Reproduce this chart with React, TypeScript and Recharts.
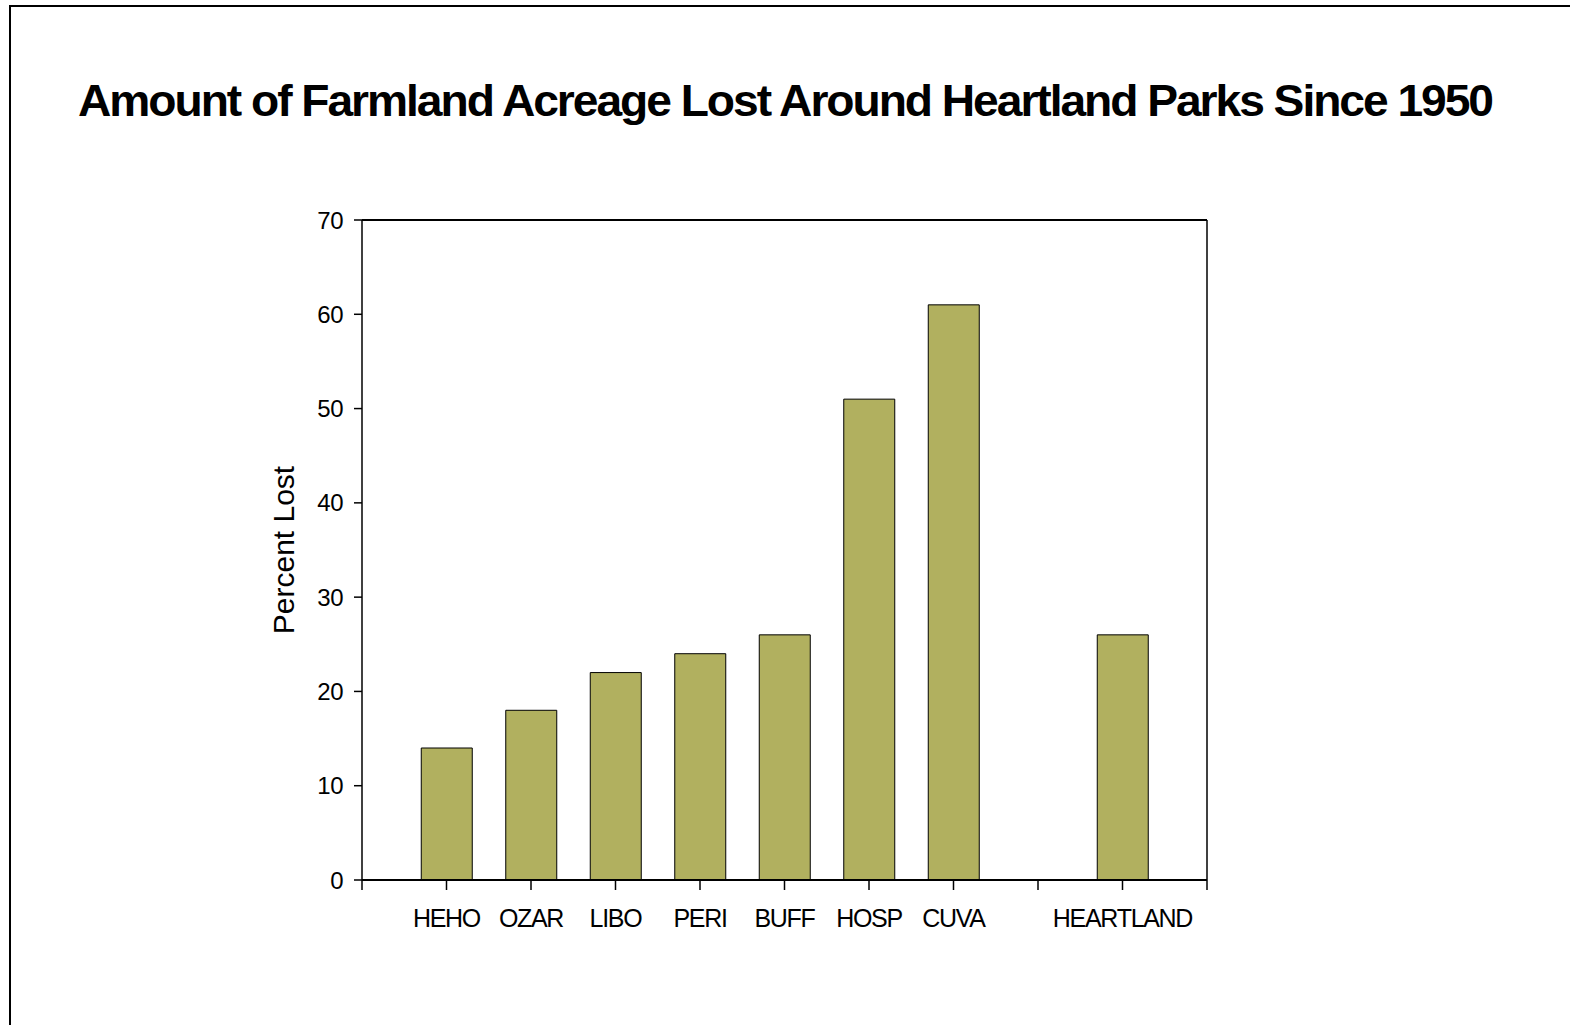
import {
  Bar,
  BarChart,
  ReferenceLine,
  XAxis,
  YAxis,
} from "recharts";

const parks = ["HEHO", "OZAR", "LIBO", "PERI", "BUFF", "HOSP", "CUVA", "HEARTLAND"];
const slots = [1, 2, 3, 4, 5, 6, 7, 9];
const percentLost = [14, 18, 22, 24, 26, 51, 61, 26];
const yTicks = [0, 10, 20, 30, 40, 50, 60, 70];
const xTicks = [0, 1, 2, 3, 4, 5, 6, 7, 8, 9, 10];

const data = parks.map((park, i) => ({ park, x: slots[i], value: percentLost[i] }));

function slotLabel(v: number) {
  const i = slots.indexOf(v);
  return i >= 0 ? parks[i] : "";
}

const font = "'Liberation Sans', Arial, sans-serif";

export default function App() {
  return (
    <div
      style={{
        position: "absolute",
        left: 0,
        top: 0,
        width: 1570,
        height: 1025,
        background: "#fff",
        fontFamily: font,
        overflow: "hidden",
      }}
    >
      <div
        style={{
          position: "absolute",
          left: 9,
          top: 5,
          width: 1600,
          height: 1100,
          borderLeft: "2px solid #000",
          borderTop: "2px solid #000",
        }}
      />
      <svg
        width={1570}
        height={160}
        style={{ position: "absolute", left: 0, top: 0 }}
      >
        <text
          x={785}
          y={116}
          textAnchor="middle"
          fontFamily={font}
          fontWeight="bold"
          fontSize={45}
          letterSpacing={-2}
          textLength={1414}
          lengthAdjust="spacingAndGlyphs"
          fill="#000"
        >
          Amount of Farmland Acreage Lost Around Heartland Parks Since 1950
        </text>
      </svg>
      <div style={{ position: "absolute", left: 0, top: 0 }}>
        <BarChart
          width={1570}
          height={1025}
          data={data}
          margin={{ top: 220, right: 363, left: 262, bottom: 85 }}
        >
          <XAxis
            type="number"
            dataKey="x"
            domain={[0, 10]}
            ticks={xTicks}
            interval={0}
            tickFormatter={slotLabel}
            height={60}
            tickSize={10}
            tickMargin={19}
            axisLine={{ stroke: "#000", strokeWidth: 2 }}
            tickLine={{ stroke: "#000", strokeWidth: 1.5 }}
            tick={{ fill: "#000", fontSize: 25, fontFamily: font, letterSpacing: -1.3 }}
          />
          <YAxis
            type="number"
            domain={[0, 70]}
            ticks={yTicks}
            interval={0}
            width={100}
            tickSize={8}
            tickMargin={11}
            axisLine={{ stroke: "#000", strokeWidth: 1.5 }}
            tickLine={{ stroke: "#000", strokeWidth: 1.5 }}
            tick={{ fill: "#000", fontSize: 24, fontFamily: font, letterSpacing: -0.5 }}
            label={{
              value: "Percent Lost",
              angle: -90,
              position: "insideLeft",
              offset: 21,
              style: { fill: "#000", fontSize: 30, fontFamily: font, textAnchor: "middle" },
            }}
          />
          <ReferenceLine y={70} stroke="#000" strokeWidth={2} ifOverflow="visible" />
          <ReferenceLine x={10} stroke="#000" strokeWidth={1.5} ifOverflow="visible" />
          <Bar
            dataKey="value"
            fill="#b1b05f"
            stroke="#000"
            strokeWidth={1}
            barSize={51}
            isAnimationActive={false}
          />
        </BarChart>
      </div>
    </div>
  );
}
